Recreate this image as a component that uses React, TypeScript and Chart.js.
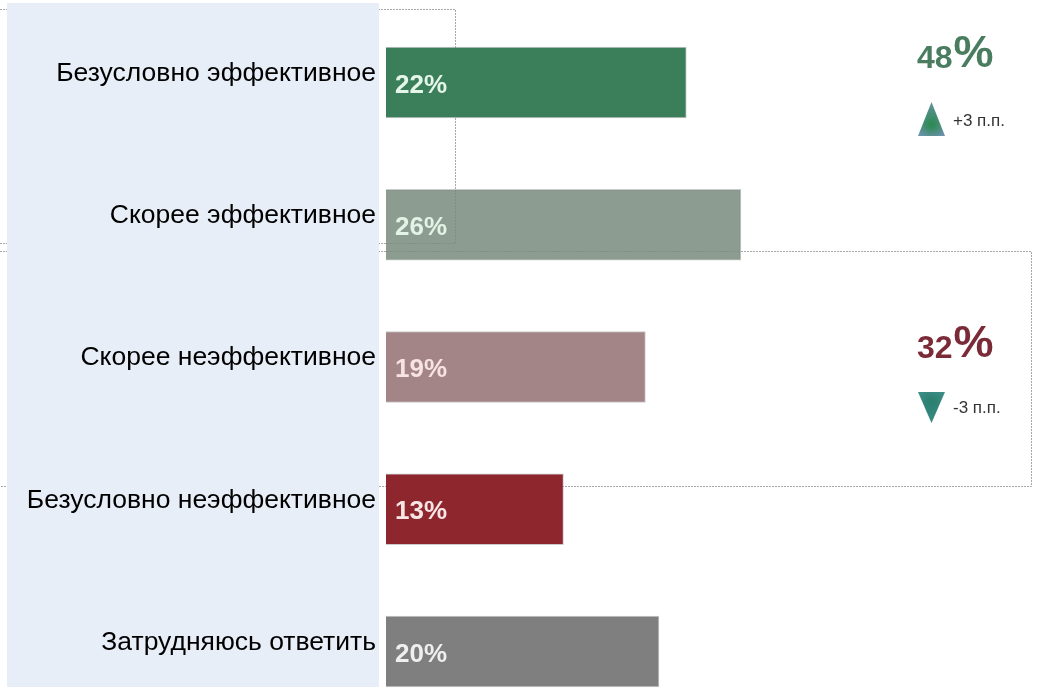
import React, { useEffect, useRef } from "react";
import { Chart, registerables } from "chart.js";

Chart.register(...registerables);

const categories = [
  "Безусловно эффективное",
  "Скорее эффективное",
  "Скорее неэффективное",
  "Безусловно неэффективное",
  "Затрудняюсь ответить",
];
const values = [22, 26, 19, 13, 20];
const barColors = ["#3a7f5a", "rgba(120,139,126,0.85)", "#a38587", "#8d262d", "#7f7f7f"];
const valueLabelColors = ["#e6f5ea", "#e3f3e6", "#f7e3e3", "#f8e6e6", "#efefef"];
const summaryValues = [48, 32];
const summaryColors = ["#4a7c5f", "#7b2a37"];
const summaryChanges = ["+3 п.п.", "-3 п.п."];
const summaryDirections = ["up", "down"];

const FONT = "'Liberation Sans', Arial, sans-serif";

const decorPlugin = {
  id: "decor",
  beforeDraw(chart: any) {
    const ctx = chart.ctx;
    ctx.save();
    ctx.strokeStyle = "#a8a8a8";
    ctx.lineWidth = 1;
    ctx.setLineDash([2, 1]);
    ctx.beginPath();
    ctx.moveTo(0, 9.5);
    ctx.lineTo(455.5, 9.5);
    ctx.lineTo(455.5, 243.5);
    ctx.lineTo(0, 243.5);
    ctx.moveTo(0, 251.5);
    ctx.lineTo(1031.5, 251.5);
    ctx.lineTo(1031.5, 486.5);
    ctx.lineTo(0, 486.5);
    ctx.stroke();
    ctx.setLineDash([]);
    ctx.fillStyle = "#e7eef7";
    ctx.fillRect(7, 3, 372, 684);
    ctx.restore();
  },
  afterDatasetsDraw(chart: any) {
    const ctx = chart.ctx;
    const meta = chart.getDatasetMeta(0);
    ctx.save();
    ctx.font = `bold 26px ${FONT}`;
    ctx.textAlign = "left";
    ctx.textBaseline = "middle";
    meta.data.forEach((bar: any, i: number) => {
      ctx.fillStyle = valueLabelColors[i];
      ctx.fillText(`${values[i]}%`, bar.base + 9, bar.y + 3);
    });

    const baseY = [68, 358];
    const triY = [102, 392];
    summaryValues.forEach((v, i) => {
      ctx.fillStyle = summaryColors[i];
      ctx.textBaseline = "alphabetic";
      ctx.font = `bold 32px ${FONT}`;
      ctx.fillText(String(v), 917, baseY[i]);
      const w = ctx.measureText(String(v)).width;
      ctx.font = `bold 45px ${FONT}`;
      ctx.fillText("%", 917 + w + 1, baseY[i] - 1);

      const x0 = 918, x1 = 945, y0 = triY[i], y1 = triY[i] + (i === 0 ? 34 : 31);
      const cx = (x0 + x1) / 2;
      const g = ctx.createRadialGradient(cx, (y0 + y1) / 2 + (i === 0 ? 6 : -6), 2, cx, (y0 + y1) / 2, 20);
      if (summaryDirections[i] === "up") {
        g.addColorStop(0, "#2f8a55");
        g.addColorStop(1, "#6e93b0");
      } else {
        g.addColorStop(0, "#2b8070");
        g.addColorStop(1, "#3f8f8a");
      }
      ctx.fillStyle = g;
      ctx.beginPath();
      if (summaryDirections[i] === "up") {
        ctx.moveTo(cx, y0);
        ctx.lineTo(x1, y1);
        ctx.lineTo(x0, y1);
      } else {
        ctx.moveTo(x0, y0);
        ctx.lineTo(x1, y0);
        ctx.lineTo(cx, y1);
      }
      ctx.closePath();
      ctx.fill();

      ctx.fillStyle = "#333333";
      ctx.font = `17px ${FONT}`;
      ctx.textBaseline = "middle";
      ctx.fillText(summaryChanges[i], 953, i === 0 ? 121 : 408);
    });
    ctx.restore();
  },
};

export default function App() {
  const ref = useRef<HTMLCanvasElement | null>(null);
  useEffect(() => {
    document.body.style.margin = "0";
    const canvas = ref.current!;
    const chart = new Chart(canvas, {
      type: "bar",
      data: {
        labels: categories,
        datasets: [
          {
            data: values,
            backgroundColor: barColors,
            borderColor: "rgba(160,160,160,0.55)",
            borderWidth: 1,
            barThickness: 71,
            clip: false as any,
          },
        ],
      },
      options: {
        indexAxis: "y",
        animation: false,
        responsive: false,
        devicePixelRatio: 1,
        layout: { padding: { left: 0, top: 82.5, bottom: 48.5, right: 242.5 } },
        plugins: { legend: { display: false }, tooltip: { enabled: false } },
        scales: {
          x: { display: false, min: 0, max: 30 },
          y: {
            offset: false,
            grid: { display: false, drawTicks: false },
            border: { display: false },
            afterFit: (scale: any) => {
              scale.width = 386;
            },
            ticks: {
              padding: 10,
              color: "#000000",
              labelOffset: -9,
              font: { family: FONT, size: 26.5 },
            },
          },
        },
      },
      plugins: [decorPlugin],
    });
    return () => chart.destroy();
  }, []);
  return <canvas ref={ref} width={1038} height={700} style={{ display: "block", width: 1038, height: 700 }} />;
}
